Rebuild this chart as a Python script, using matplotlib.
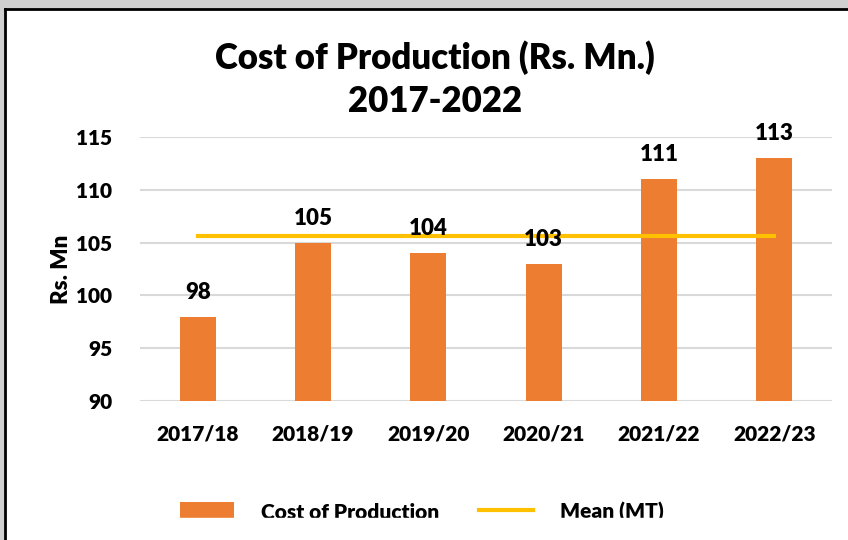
import numpy as np
import matplotlib.pyplot as plt
from matplotlib.patches import Rectangle

# --- Données ---
annees = ["2017/18", "2018/19", "2019/20", "2020/21", "2021/22", "2022/23"]
cout_production = [98, 105, 104, 103, 111, 113]
moyenne = np.mean(cout_production)

plt.rcParams['font.family'] = ['Lato', 'DejaVu Sans']
plt.rcParams['font.weight'] = 'heavy'
plt.rcParams['axes.labelweight'] = 'heavy'

fig = plt.figure(figsize=(8.48, 5.4), dpi=100)
ax = fig.add_axes([140 / 848, 1 - 401 / 540, 692 / 848, 264 / 540])

x = np.arange(len(annees))
barres = ax.bar(x, cout_production, width=0.31, color='#ED7D31', zorder=2,
                label="Cost of Production")
ligne, = ax.plot(x, [moyenne] * len(x), color='#FFC000', lw=3, zorder=3,
                 label="Mean (MT)")

for xi, v in zip(x, cout_production):
    ax.annotate(f"{v}", (xi, v), xytext=(0, 10), textcoords='offset points',
                ha='center', va='bottom', fontsize=16, fontweight='heavy')

ax.set_xlim(-0.5, len(annees) - 0.5)
ax.set_ylim(90, 115)
ax.set_yticks(np.arange(90, 116, 5))
ax.set_xticks(x)
ax.set_xticklabels(annees)
ax.tick_params(length=0, labelsize=15)
ax.tick_params(axis='x', pad=17)
ax.tick_params(axis='y', pad=20)
for s in ax.spines.values():
    s.set_visible(False)
ax.grid(axis='y', color='#D9D9D9', lw=1.5, zorder=0)
ax.set_axisbelow(True)
ax.set_ylabel("Rs. Mn", fontsize=16, fontweight='heavy', labelpad=3)

# --- Titre ---
fig.text(435 / 848, 1 - 58 / 540, "Cost of Production (Rs. Mn.)", ha='center',
         va='center', fontsize=25, fontweight='heavy')
fig.text(435 / 848, 1 - 102 / 540, "2017-2022", ha='center', va='center',
         fontsize=25, fontweight='heavy')

# --- Légende ---
fig.legend(handles=[barres, ligne], loc='center', ncol=2, frameon=False,
           bbox_to_anchor=(422 / 848, 1 - 512 / 540), fontsize=15,
           handlelength=2.6, handleheight=1.0, handletextpad=1.3,
           columnspacing=1.9)

# bas de la zone coupé, bordure de la fenêtre
fig.patches.append(Rectangle((0, 0), 1, 22 / 540, transform=fig.transFigure,
                             color='white', zorder=10))
fig.patches.append(Rectangle((0, 1 - 8 / 540), 1, 8 / 540, transform=fig.transFigure,
                             color='#D0D0D0', zorder=11))
fig.patches.append(Rectangle((0, 0), 4 / 848, 1, transform=fig.transFigure,
                             color='#D0D0D0', zorder=11))
fig.lines.append(plt.Line2D([5 / 848, 1], [1 - 9 / 540, 1 - 9 / 540],
                            transform=fig.transFigure, color='black', lw=2, zorder=12))
fig.lines.append(plt.Line2D([5 / 848, 5 / 848], [0, 1 - 9 / 540],
                            transform=fig.transFigure, color='black', lw=2, zorder=12))

fig.savefig("out.png", dpi=100)
